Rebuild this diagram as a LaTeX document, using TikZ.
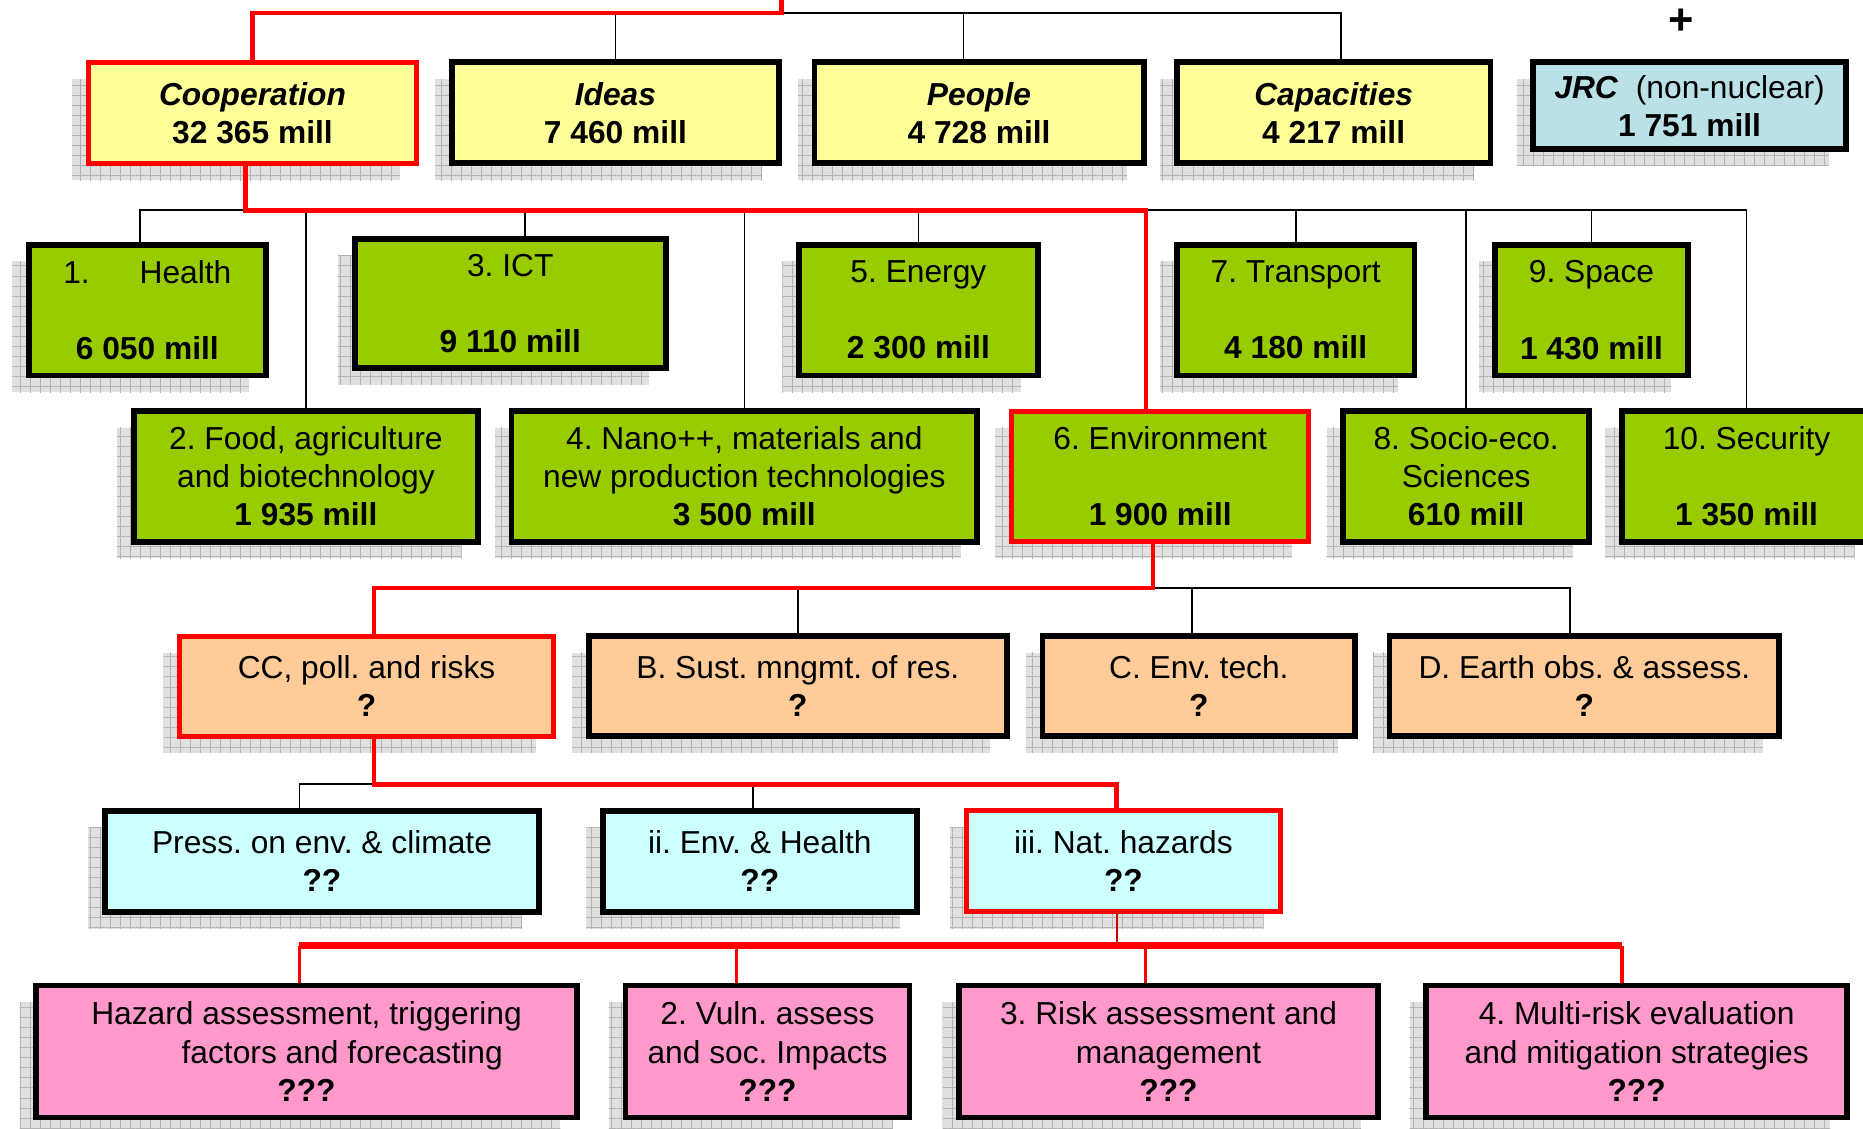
\documentclass[tikz,border=0pt]{standalone}
\usepackage{fontspec}
\setmainfont{Liberation Sans}
\usetikzlibrary{shadows, patterns.meta}
\frenchspacing

\definecolor{fpyellow}{HTML}{FFFF99}
\definecolor{jrcblue}{HTML}{B9E1E6}
\definecolor{themegreen}{HTML}{99CC00}
\definecolor{areaorange}{HTML}{FFCC99}
\definecolor{subcyan}{HTML}{CCFFFF}
\definecolor{topicpink}{HTML}{FF99CC}

\tikzset{
    boxshadow/.style={
        general shadow={fill=gray!24, shadow xshift=-0.35cm, shadow yshift=-0.35cm},
        general shadow={pattern={Hatch[angle=0, distance=6pt, line width=0.5pt]}, pattern color=gray!60, shadow xshift=-0.35cm, shadow yshift=-0.35cm}},
    box/.style={rectangle, draw, line width=3.5pt, align=center, inner sep=0pt, boxshadow},
    chosen/.style={draw=red, line width=3pt},
    wire/.style={line width=1pt},
    redwire/.style={draw=red, line width=2.8pt},
}

\begin{document}
\begin{tikzpicture}[x=0.025cm, y=-0.025cm, font=\fontsize{19}{22.8}\selectfont]
    \useasboundingbox (0,0) rectangle (1568,949.4);

    % framework programme
    \node[box, fill=fpyellow, chosen, minimum width=6.9cm, minimum height=2.125cm] (coop) at (212.5,95) {\textbf{\textit{Cooperation}}\\\textbf{32 365 mill}};
    \node[box, fill=fpyellow, minimum width=6.875cm, minimum height=2.125cm] (ideas) at (518,95) {\textbf{\textit{Ideas}}\\\textbf{7 460 mill}};
    \node[box, fill=fpyellow, minimum width=6.925cm, minimum height=2.125cm] (people) at (824,95) {\textbf{\textit{People}}\\\textbf{4 728 mill}};
    \node[box, fill=fpyellow, minimum width=6.6cm, minimum height=2.125cm] (capa) at (1122.5,95) {\textbf{\textit{Capacities}}\\\textbf{4 217 mill}};
    \node[box, fill=jrcblue, minimum width=6.575cm, minimum height=1.825cm] (jrc) at (1422,89) {\textbf{\textit{JRC}}~ (non-nuclear)\\\textbf{1 751 mill}};
    \node[font=\fontsize{26}{30}\selectfont\bfseries] (plus) at (1415,18) {+};

    % themes
    \node[box, fill=themegreen, minimum width=4.975cm, minimum height=2.75cm] (health) at (124,261) {1.\hspace{1.05cm}Health\\~\\\textbf{6 050 mill}};
    \node[box, fill=themegreen, minimum width=6.55cm, minimum height=2.725cm] (ict) at (429.5,255.5) {3. ICT\\~\\\textbf{9 110 mill}};
    \node[box, fill=themegreen, minimum width=5.025cm, minimum height=2.75cm] (energy) at (773,261) {5. Energy\\~\\\textbf{2 300 mill}};
    \node[box, fill=themegreen, minimum width=5cm, minimum height=2.75cm] (transport) at (1090.5,261) {7. Transport\\~\\\textbf{4 180 mill}};
    \node[box, fill=themegreen, minimum width=4.05cm, minimum height=2.75cm] (space) at (1339.5,261) {9. Space\\~\\\textbf{1 430 mill}};
    \node[box, fill=themegreen, minimum width=7.25cm, minimum height=2.75cm] (food) at (257.5,401) {2. Food, agriculture\\and biotechnology\\\textbf{1 935 mill}};
    \node[box, fill=themegreen, minimum width=9.8cm, minimum height=2.75cm] (nano) at (626.5,401) {4. Nano++, materials and\\new production technologies\\\textbf{3 500 mill}};
    \node[box, fill=themegreen, chosen, minimum width=6.25cm, minimum height=2.75cm] (env) at (976.5,401) {6. Environment\\~\\\textbf{1 900 mill}};
    \node[box, fill=themegreen, minimum width=5.175cm, minimum height=2.75cm] (socio) at (1234,401) {8. Socio-eco.\\Sciences\\\textbf{610 mill}};
    \node[box, fill=themegreen, minimum width=5.25cm, minimum height=2.75cm] (security) at (1470,401) {10. Security\\~\\\textbf{1 350 mill}};

    % activities of the environment theme
    \node[box, fill=areaorange, chosen, minimum width=7.85cm, minimum height=2.1cm] (ccpoll) at (308.5,577.5) {CC, poll. and risks\\\textbf{?}};
    \node[box, fill=areaorange, minimum width=8.8cm, minimum height=2.1cm] (sust) at (671.5,577.5) {B. Sust. mngmt. of res.\\\textbf{?}};
    \node[box, fill=areaorange, minimum width=6.575cm, minimum height=2.1cm] (envtech) at (1009,577.5) {C. Env. tech.\\\textbf{?}};
    \node[box, fill=areaorange, minimum width=8.2cm, minimum height=2.1cm] (earth) at (1333.5,577.5) {D. Earth obs. \& assess.\\\textbf{?}};

    \node[box, fill=subcyan, minimum width=9.125cm, minimum height=2.125cm] (press) at (271,725) {Press. on env. \& climate\\\textbf{??}};
    \node[box, fill=subcyan, minimum width=6.6cm, minimum height=2.125cm] (envhealth) at (639.5,725) {ii. Env. \& Health\\\textbf{??}};
    \node[box, fill=subcyan, chosen, minimum width=6.6cm, minimum height=2.125cm] (hazards) at (945.5,725) {iii. Nat. hazards\\\textbf{??}};

    \node[box, fill=topicpink, minimum width=11.375cm, minimum height=2.775cm] (hazass) at (258,885) {Hazard assessment, triggering\\\hspace*{1.5cm}factors and forecasting\\\textbf{???}};
    \node[box, fill=topicpink, minimum width=5.975cm, minimum height=2.775cm] (vuln) at (646,885) {2. Vuln. assess\\and soc. Impacts\\\textbf{???}};
    \node[box, fill=topicpink, minimum width=8.8cm, minimum height=2.775cm] (risk) at (983.5,885) {3. Risk assessment and\\management\\\textbf{???}};
    \node[box, fill=topicpink, minimum width=8.85cm, minimum height=2.775cm] (multi) at (1377.5,885) {4. Multi-risk evaluation\\and mitigation strategies\\\textbf{???}};

    \coordinate (root) at (658,-20);
    \coordinate (bus0) at (0,11);
    \coordinate (bus1) at (0,177);
    \coordinate (bus2) at (0,495);
    \coordinate (bus3) at (0,660);
    \coordinate (bus4) at (0,796);

    \draw[wire] (ideas.north) -- (ideas.north |- bus0) -| ([xshift=0.16cm]capa.north);
    \draw[wire] ([xshift=-0.325cm]people.north) -- ([xshift=-0.325cm]people.north |- bus0);
    \draw[redwire] (root) |- (coop.north |- bus0) -- (coop.north);

    \draw[wire] ([xshift=-0.15cm]health.north) |- (security.north |- bus1) -- (security.north);
    \draw[wire] ([xshift=0.31cm]ict.north) -- ([xshift=0.31cm]ict.north |- bus1);
    \foreach \n in {food, nano, energy, transport, socio, space}
        \draw[wire] (\n.north) -- (\n.north |- bus1);
    \draw[redwire] ([xshift=-0.15cm]coop.south) -- ([xshift=-0.15cm]coop.south |- bus1) -| ([xshift=-0.3cm]env.north);

    \draw[wire] ([xshift=-0.15cm]env.south |- bus2) -| ([xshift=-0.3cm]earth.north);
    \draw[wire] (sust.north) -- (sust.north |- bus2);
    \draw[wire] ([xshift=-0.15cm]envtech.north) -- ([xshift=-0.15cm]envtech.north |- bus2);
    \draw[redwire] ([xshift=-0.15cm]env.south) -- ([xshift=-0.15cm]env.south |- bus2) -| ([xshift=0.16cm]ccpoll.north);

    \draw[wire] ([xshift=0.16cm]ccpoll.south |- bus3) -| ([xshift=-0.475cm]press.north);
    \draw[wire] ([xshift=-0.15cm]envhealth.north) -- ([xshift=-0.15cm]envhealth.north |- bus3);
    \draw[redwire] ([xshift=0.16cm]ccpoll.south) -- ([xshift=0.16cm]ccpoll.south |- bus3) -| ([xshift=-0.14cm]hazards.north);

    \draw[red!80!black, line width=1.2pt] ([xshift=-0.14cm]hazards.south) -- ([xshift=-0.14cm]hazards.south |- bus4);
    \foreach \n/\dx in {hazass/-0.15, vuln/-0.65, risk/-0.49, multi/-0.31}
        \draw[red, line width=2pt] ([xshift=\dx cm]\n.north) -- ([xshift=\dx cm]\n.north |- bus4);
    \draw[red, line width=4pt] ([xshift=-0.15cm]hazass.north |- bus4) -- ([xshift=-0.31cm]multi.north |- bus4);
\end{tikzpicture}
\end{document}
